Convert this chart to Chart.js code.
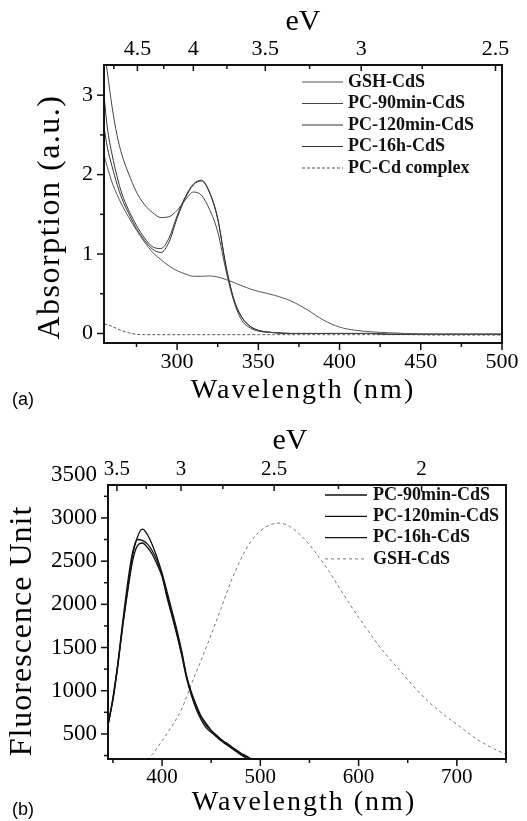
<!DOCTYPE html>
<html>
<head>
<meta charset="utf-8">
<script src="https://cdn.jsdelivr.net/npm/chart.js@4.4.1/dist/chart.umd.min.js"></script>
<style>
html, body { margin: 0; padding: 0; background: #fff; }
canvas { position: absolute; left: 0; }
#chartA { top: 0; }
#chartB { top: 410px; }
</style>
</head>
<body>
<canvas id="chartA" width="527" height="410"></canvas>
<canvas id="chartB" width="527" height="411"></canvas>
<script>
// (a) absorption spectra
const absWl = [255, 257, 260, 263, 266, 270, 275, 280, 285, 290, 295, 300, 305, 310, 315, 320, 325, 330, 335, 340, 345, 350, 360, 370, 380, 390, 400, 410, 420, 430, 440, 460, 480, 500];
const gshAbs   = [2.25, 2.1, 1.9, 1.75, 1.62, 1.47, 1.3, 1.15, 1.02, 0.93, 0.85, 0.79, 0.75, 0.72, 0.72, 0.725, 0.71, 0.68, 0.64, 0.6, 0.56, 0.53, 0.48, 0.41, 0.3, 0.17, 0.08, 0.04, 0.02, 0.01, 0, -0.01, -0.01, -0.01];
const pc90Abs  = [3.6, 3.3, 2.85, 2.5, 2.25, 2.02, 1.78, 1.62, 1.52, 1.46, 1.47, 1.55, 1.68, 1.78, 1.74, 1.56, 1.28, 0.8, 0.4, 0.16, 0.07, 0.03, 0.01, 0, 0, 0, 0, 0, 0, -0.01, -0.01, -0.01, -0.01, -0.01];
const pc120Abs = [3.0, 2.6, 2.25, 1.98, 1.76, 1.56, 1.36, 1.2, 1.09, 1.07, 1.2, 1.48, 1.72, 1.88, 1.93, 1.78, 1.45, 0.85, 0.42, 0.2, 0.09, 0.04, 0.01, 0, 0, 0, 0, 0, 0, -0.01, -0.01, -0.01, -0.01, -0.01];
const pc16hAbs = [2.6, 2.35, 2.1, 1.88, 1.7, 1.52, 1.32, 1.17, 1.06, 1.02, 1.15, 1.45, 1.7, 1.87, 1.92, 1.77, 1.44, 0.86, 0.43, 0.2, 0.09, 0.04, 0.01, 0, 0, 0, 0, 0, 0, -0.01, -0.01, -0.01, -0.01, -0.01];
const pcCdAbs  = [0.12, 0.11, 0.09, 0.06, 0.035, 0.01, -0.01, -0.015, -0.015, -0.015, -0.015, -0.015, -0.015, -0.015, -0.015, -0.015, -0.015, -0.015, -0.015, -0.015, -0.015, -0.015, -0.015, -0.015, -0.015, -0.015, -0.015, -0.015, -0.015, -0.015, -0.015, -0.02, -0.02, -0.02];
const absXTicks = [300, 350, 400, 450, 500];
const absXMinor = [275, 325, 375, 425, 475];
const absYTicks = [0, 1, 2, 3];
const absYMinor = [0.5, 1.5, 2.5];
const absEvTicks = [4.5, 4, 3.5, 3, 2.5];
const absEvMinor = [4.75, 4.25, 3.75, 3.25, 2.75];

// (b) fluorescence spectra
const fluWl = [345, 350, 355, 360, 365, 370, 375, 380, 385, 390, 395, 400, 405, 410, 415, 420, 425, 430, 435, 440, 445, 450, 455, 460, 465, 470, 475, 480, 485, 490];
const pc90Flu  = [620, 900, 1300, 1760, 2170, 2560, 2780, 2870, 2810, 2690, 2540, 2360, 2150, 1930, 1710, 1460, 1170, 980, 830, 700, 620, 540, 490, 440, 390, 350, 320, 280, 250, 215];
const pc120Flu = [600, 920, 1320, 1800, 2250, 2600, 2750, 2740, 2700, 2620, 2500, 2340, 2110, 1890, 1670, 1430, 1160, 960, 800, 690, 600, 540, 480, 430, 400, 360, 310, 270, 240, 210];
const pc16hFlu = [600, 890, 1290, 1750, 2150, 2500, 2680, 2710, 2660, 2580, 2460, 2320, 2080, 1870, 1650, 1410, 1140, 940, 780, 660, 570, 520, 470, 420, 380, 340, 300, 260, 225, 200];
const gshFluWl = [385, 390, 400, 410, 420, 430, 440, 450, 460, 470, 480, 490, 500, 510, 520, 530, 540, 550, 560, 570, 580, 590, 600, 610, 620, 630, 640, 650, 660, 670, 680, 690, 700, 710, 720, 730, 740, 750];
const gshFlu   = [200, 260, 420, 590, 790, 1080, 1360, 1650, 1950, 2260, 2520, 2720, 2850, 2920, 2940, 2900, 2810, 2690, 2540, 2380, 2200, 2020, 1850, 1690, 1530, 1390, 1260, 1130, 1000, 885, 785, 695, 610, 525, 440, 375, 315, 262];
const fluXTicks = [400, 500, 600, 700];
const fluXMinor = [350, 450, 550, 650, 750];
const fluYTicks = [500, 1000, 1500, 2000, 2500, 3000, 3500];
const fluYMinor = [250, 750, 1250, 1750, 2250, 2750, 3250];
const fluEvTicks = [3.5, 3, 2.5, 2];
const fluEvMinor = [3.25, 2.75, 2.25];

// top axis conversions (the panel b top axis in the figure is not exactly 1240/E)
const absEvToNm = e => 1240 / e;
const fluEvToNm = e => 1137.6 / (e - 0.287);

const SERIF = '"Liberation Serif", "Times New Roman", serif';

function xy(xs, ys) {
  return xs.map((x, i) => ({ x: x, y: ys[i] }));
}

function line(label, xs, ys, color, width, dash) {
  return {
    label: label,
    data: xy(xs, ys),
    borderColor: color,
    borderWidth: width,
    borderDash: dash || [],
    pointRadius: 0,
    cubicInterpolationMode: 'monotone',
    fill: false
  };
}

// box round the plot and the tick marks (top axis ticks point inwards)
function framePlugin(m) {
  return {
    id: 'frame',
    afterDraw(chart) {
      const ctx = chart.ctx, a = chart.chartArea;
      const sx = chart.scales.x, sy = chart.scales.y, st = chart.scales.x2;
      const seg = (x1, y1, x2, y2) => { ctx.beginPath(); ctx.moveTo(x1, y1); ctx.lineTo(x2, y2); ctx.stroke(); };
      const inX = p => p >= a.left - 1 && p <= a.right + 1;
      const inY = p => p >= a.top - 1 && p <= a.bottom + 1;
      ctx.save();
      ctx.strokeStyle = '#111';
      ctx.lineWidth = 1.5;
      sx.ticks.forEach(t => { const p = sx.getPixelForValue(t.value); if (inX(p)) seg(p, a.bottom, p, a.bottom + 7); });
      m.xMinor.forEach(v => { const p = sx.getPixelForValue(v); if (inX(p)) seg(p, a.bottom, p, a.bottom + 4); });
      sy.ticks.forEach(t => { const p = sy.getPixelForValue(t.value); if (inY(p)) seg(a.left, p, a.left - 7, p); });
      m.yMinor.forEach(v => { const p = sy.getPixelForValue(v); if (inY(p)) seg(a.left, p, a.left - 4, p); });
      st.ticks.forEach(t => { const p = st.getPixelForValue(t.value); if (inX(p)) seg(p, a.top, p, a.top + 6); });
      m.topMinor.forEach(v => { const p = st.getPixelForValue(v); if (inX(p)) seg(p, a.top, p, a.top + 4); });
      ctx.lineWidth = 2;
      ctx.strokeRect(a.left, a.top, a.right - a.left, a.bottom - a.top);
      ctx.restore();
    }
  };
}

function legendPlugin(pos) {
  return {
    id: 'insideLegend',
    afterDraw(chart) {
      const ctx = chart.ctx;
      ctx.save();
      ctx.font = 'bold 18px ' + SERIF;
      ctx.textBaseline = 'middle';
      ctx.textAlign = 'left';
      ctx.fillStyle = '#111';
      chart.data.datasets.forEach((ds, i) => {
        const y = pos.y0 + i * pos.dy;
        ctx.strokeStyle = ds.borderColor;
        ctx.lineWidth = ds.borderWidth;
        ctx.setLineDash(ds.borderDash);
        ctx.beginPath(); ctx.moveTo(pos.x1, y); ctx.lineTo(pos.x2, y); ctx.stroke();
        ctx.setLineDash([]);
        ctx.fillText(ds.label, pos.tx, y);
      });
      ctx.restore();
    }
  };
}

function textPlugin(items) {
  return {
    id: 'panelText',
    afterDraw(chart) {
      const ctx = chart.ctx;
      items.forEach(it => {
        ctx.save();
        ctx.font = it.font;
        ctx.fillStyle = '#000';
        ctx.textAlign = it.align || 'center';
        ctx.textBaseline = 'middle';
        ctx.letterSpacing = (it.sp || 0) + 'px';
        ctx.translate(it.x, it.y);
        if (it.rot) ctx.rotate(-Math.PI / 2);
        ctx.fillText(it.t, 0, 0);
        ctx.restore();
      });
    }
  };
}

function makePanel(id, p) {
  const tickFont = size => ({ family: SERIF, size: size });
  return new Chart(document.getElementById(id), {
    type: 'line',
    data: { datasets: p.datasets },
    options: {
      responsive: false,
      animation: false,
      events: [],
      layout: { padding: { left: 0, right: p.padRight, top: 0, bottom: 0 } },
      plugins: { legend: { display: false }, tooltip: { enabled: false } },
      scales: {
        x: {
          type: 'linear', position: 'bottom', min: p.xMin, max: p.xMax,
          afterBuildTicks: s => { s.ticks = p.xTicks.map(v => ({ value: v })); },
          afterFit: s => { s.height = p.bottomH; },
          ticks: { autoSkip: false, maxRotation: 0, color: '#000', font: tickFont(p.xFont), padding: 6, callback: v => String(v) },
          grid: { display: false, drawTicks: false },
          border: { display: false }
        },
        x2: {
          type: 'linear', position: 'top', min: p.xMin, max: p.xMax,
          afterBuildTicks: s => { s.ticks = p.evTicks.map(e => ({ value: p.evToNm(e) })); },
          afterFit: s => { s.height = p.topH; },
          ticks: { autoSkip: false, maxRotation: 0, color: '#000', font: tickFont(p.xFont), padding: 3,
                   callback: (v, i) => String(p.evTicks[i]) },
          grid: { display: false, drawTicks: false },
          border: { display: false }
        },
        y: {
          type: 'linear', position: 'left', min: p.yMin, max: p.yMax,
          afterBuildTicks: s => { s.ticks = p.yTicks.map(v => ({ value: v })); },
          afterFit: s => { s.width = p.leftW; },
          ticks: { autoSkip: false, color: '#000', font: tickFont(p.yFont), padding: 11, callback: v => String(v) },
          grid: { display: false, drawTicks: false },
          border: { display: false }
        }
      }
    },
    plugins: [framePlugin(p.minor), legendPlugin(p.legend), textPlugin(p.texts)]
  });
}

makePanel('chartA', {
  datasets: [
    line('GSH-CdS', absWl, gshAbs, '#555', 1),
    line('PC-90min-CdS', absWl, pc90Abs, '#444', 1),
    line('PC-120min-CdS', absWl, pc120Abs, '#333', 1),
    line('PC-16h-CdS', absWl, pc16hAbs, '#333', 1),
    line('PC-Cd complex', absWl, pcCdAbs, '#555', 1, [3, 2])
  ],
  xMin: 255, xMax: 500, yMin: -0.12, yMax: 3.38,
  xTicks: absXTicks, yTicks: absYTicks, evTicks: absEvTicks, evToNm: absEvToNm,
  minor: { xMinor: absXMinor, yMinor: absYMinor, topMinor: absEvMinor.map(absEvToNm) },
  xFont: 22, yFont: 22,
  leftW: 104, topH: 65, bottomH: 67, padRight: 25,
  legend: { x1: 302, x2: 343, tx: 348, y0: 82, dy: 21.5 },
  texts: [
    { t: 'eV', x: 303, y: 22, font: '30px ' + SERIF },
    { t: 'Wavelength (nm)', x: 303, y: 391, font: '28px ' + SERIF, sp: 2 },
    { t: 'Absorption (a.u.)', x: 51, y: 217, font: '32px ' + SERIF, sp: 1.5, rot: true },
    { t: '(a)', x: 12, y: 400, font: '18px "Liberation Sans", Arial, sans-serif', align: 'left' }
  ]
});

makePanel('chartB', {
  datasets: [
    line('PC-90min-CdS', fluWl, pc90Flu, '#111', 1.3),
    line('PC-120min-CdS', fluWl, pc120Flu, '#111', 1.3),
    line('PC-16h-CdS', fluWl, pc16hFlu, '#111', 1.3),
    line('GSH-CdS', gshFluWl, gshFlu, '#777', 1, [3, 3])
  ],
  xMin: 345, xMax: 750, yMin: 210, yMax: 3381,
  xTicks: fluXTicks, yTicks: fluYTicks, evTicks: fluEvTicks, evToNm: fluEvToNm,
  minor: { xMinor: fluXMinor, yMinor: fluYMinor, topMinor: fluEvMinor.map(fluEvToNm) },
  xFont: 21, yFont: 23,
  leftW: 108, topH: 75, bottomH: 62, padRight: 21,
  legend: { x1: 325, x2: 367, tx: 373, y0: 85, dy: 21.3 },
  texts: [
    { t: 'eV', x: 290, y: 31, font: '30px ' + SERIF },
    { t: 'Wavelength (nm)', x: 304, y: 393, font: '28px ' + SERIF, sp: 2 },
    { t: 'Fluorescence Unit', x: 23, y: 221, font: '32px ' + SERIF, sp: 1, rot: true },
    { t: '(b)', x: 12, y: 400, font: '18px "Liberation Sans", Arial, sans-serif', align: 'left' }
  ]
});
</script>
</body>
</html>
